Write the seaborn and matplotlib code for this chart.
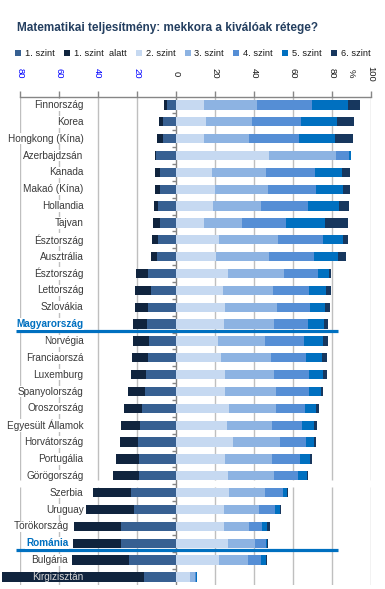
import numpy as np
import pandas as pd
import matplotlib
matplotlib.use("Agg")
import matplotlib.pyplot as plt
import seaborn as sns
from matplotlib.patches import Patch

# PISA maths proficiency levels, % of students
countries = [
    "Finnország", "Korea", "Hongkong (Kína)", "Azerbajdzsán", "Kanada",
    "Makaó (Kína)", "Hollandia", "Tajvan", "Észtország", "Ausztrália",
    "Észtország", "Lettország", "Szlovákia", "Magyarország", "Norvégia",
    "Franciaorszá", "Luxemburg", "Spanyolország", "Oroszország",
    "Egyesült Államok", "Horvátország", "Portugália", "Görögország",
    "Szerbia", "Uruguay", "Törökország", "Románia", "Bulgária", "Kirgizisztán",
]
below1 = [1.5, 2.1, 3.1, 0.5, 2.6, 2.6, 2.1, 3.6, 3.1, 3.1, 6.2, 8.2, 6.7, 7.2, 8.2,
          8.2, 7.7, 8.7, 9.2, 9.7, 9.2, 11.8, 13.3, 19.5, 24.6, 24.1, 24.6, 29.2, 72.9]
level1 = [4.6, 6.7, 6.7, 10.3, 8.2, 8.2, 9.2, 8.2, 9.2, 9.7, 14.4, 12.8, 14.4, 14.9, 13.8,
          14.4, 15.4, 15.9, 17.4, 18.5, 19.5, 19.0, 19.0, 23.1, 21.5, 28.2, 28.2, 24.1, 16.4]
level2 = [14.4, 15.4, 14.4, 47.7, 18.5, 20.0, 19.0, 14.4, 22.1, 20.5, 26.7, 24.1, 25.1, 24.6, 21.5,
          23.1, 25.1, 25.1, 27.2, 26.2, 29.2, 25.1, 26.7, 27.2, 24.6, 24.6, 26.7, 22.1, 7.2]
level3 = [27.2, 23.6, 23.1, 34.4, 27.7, 27.2, 24.6, 19.5, 30.3, 27.2, 28.7, 25.6, 26.7, 25.6, 24.1,
          25.6, 25.1, 26.2, 24.1, 23.1, 24.1, 24.1, 23.6, 18.5, 17.9, 12.8, 13.8, 14.9, 2.6]
level4 = [28.2, 25.1, 25.6, 6.7, 25.1, 24.6, 24.1, 22.6, 23.1, 23.1, 17.4, 18.5, 16.9, 17.4, 20.0,
          17.9, 17.9, 16.9, 14.9, 15.4, 13.3, 14.4, 12.3, 9.2, 8.2, 6.7, 5.6, 6.7, 0.6]
level5 = [18.5, 18.5, 18.5, 0.8, 13.8, 13.8, 15.9, 20.0, 10.3, 12.3, 5.6, 8.7, 7.7, 8.2, 9.7,
          8.2, 7.2, 6.2, 5.6, 6.2, 4.1, 5.1, 4.6, 2.1, 2.6, 2.6, 0.7, 2.6, 0.3]
level6 = [6.2, 8.7, 9.2, 0.2, 4.1, 3.6, 5.1, 11.8, 2.6, 4.1, 1.0, 2.6, 2.6, 2.1, 2.6,
          2.6, 2.1, 1.0, 1.5, 1.5, 1.0, 1.0, 0.5, 0.5, 0.5, 1.5, 0.2, 0.5, 0.1]
highlight = ["Magyarország", "Románia"]
legend_labels = ["1. szint", "1. szint  alatt", "2. szint", "3. szint",
                 "4. szint", "5. szint", "6. szint"]
x_ticks = [-80, -60, -40, -20, 0, 20, 40, 60, 80, 100]

COLORS = {
    "1. szint": "#376092",
    "1. szint  alatt": "#10243e",
    "2. szint": "#c6d9f1",
    "3. szint": "#8db3e2",
    "4. szint": "#558ed5",
    "5. szint": "#0070c0",
    "6. szint": "#17375e",
}
GRID = "#bfbfbf"
AXIS = "#868686"
HL = "#0070c0"

sns.set_theme(style="white")
plt.rcParams["font.family"] = ["Liberation Sans", "DejaVu Sans"]

n = len(countries)
df = pd.DataFrame({
    "row": np.arange(n),
    "b1": below1, "l1": level1, "l2": level2, "l3": level3,
    "l4": level4, "l5": level5, "l6": level6,
})
# cumulative ends for the stacked segments
df["c2"] = df["l2"]
df["c3"] = df["c2"] + df["l3"]
df["c4"] = df["c3"] + df["l4"]
df["c5"] = df["c4"] + df["l5"]
df["c6"] = df["c5"] + df["l6"]
df["n1"] = -df["l1"]
df["nb"] = -(df["l1"] + df["b1"])

fig = plt.figure(figsize=(3.85, 5.89), dpi=100)
ax = fig.add_axes([0.0512, 0.0061, 0.9124, 0.830])

# draw outermost first, inner segments on top
layers = [("c6", "6. szint"), ("c5", "5. szint"), ("c4", "4. szint"),
          ("c3", "3. szint"), ("c2", "2. szint"),
          ("nb", "1. szint  alatt"), ("n1", "1. szint")]
for col, lab in layers:
    sns.barplot(data=df, x=col, y="row", orient="h", color=COLORS[lab],
                saturation=1, width=0.55, errorbar=None, ax=ax, zorder=3)
for p in ax.patches:
    p.set_clip_on(False)
    p.set_linewidth(0)

ax.set_xlim(-80, 100)
ax.set_ylim(n - 0.5, -0.5)
ax.set_xlabel("")
ax.set_ylabel("")
ax.set_yticks([])

# gridlines with a small break between the two country groups
gap_lo, gap_hi = 22.25, 22.65
for t in x_ticks:
    if t == 0:
        continue
    ax.vlines(t, -0.5, gap_lo, color=GRID, lw=1, zorder=1)
    ax.vlines(t, gap_hi, n - 0.5, color=GRID, lw=1, zorder=1)
ax.axvline(0, color=AXIS, lw=1, zorder=2)
ax.hlines(np.arange(n - 1) + 0.5, -2, 0, color=AXIS, lw=1, zorder=2)

# top value axis
for s in ["left", "right", "bottom"]:
    ax.spines[s].set_visible(False)
ax.spines["top"].set_color(AXIS)
ax.spines["top"].set_linewidth(1)
ax.xaxis.tick_top()
ax.set_xticks(x_ticks)
ax.tick_params(axis="x", direction="out", length=4, width=1, color=AXIS,
               labeltop=False, labelbottom=False, top=True, bottom=False)
tr = ax.get_xaxis_transform()
for t in x_ticks:
    ax.text(t, 1.047, str(abs(t)), transform=tr, rotation=-90, ha="center",
            va="center", fontsize=6.8, color="#0000ff" if t < 0 else "#1a1a1a")
ax.text(89.7, 1.047, "%", transform=tr, rotation=-90, ha="center",
        va="center", fontsize=6.8, color="#1a1a1a")

# country labels
label_x = -47.3
for i, name in enumerate(countries):
    left_end = df.loc[i, "nb"]
    kw = dict(ha="right", va="center", fontsize=7.2, zorder=5)
    x = label_x
    color = "#3a3a3a"
    bbox = dict(facecolor="white", edgecolor="none", pad=0.6)
    if left_end < -70:
        color = "#d9d9d9"
        bbox = None
    elif left_end < label_x - 2:
        x = left_end - 2.3
    if name in highlight:
        ax.text(x, i, name, color=HL, fontweight="bold", bbox=bbox, **kw)
        ax.plot([-81.7, 82.9], [i + 0.4, i + 0.4], color=HL, lw=2.3,
                clip_on=False, zorder=4, solid_capstyle="butt")
    else:
        ax.text(x, i, name, color=color, bbox=bbox, **kw)

fig.text(0.044, 1 - 28 / 589, "Matematikai teljesítmény: mekkora a kiválóak rétege?",
         fontsize=8.5, fontweight="bold", color="#243f60", va="center", ha="left")

handles = [Patch(facecolor=COLORS[l], edgecolor="none") for l in legend_labels]
fig.legend(handles, legend_labels, loc="center left",
           bbox_to_anchor=(0.040, 1 - 54 / 589), ncol=7, frameon=False,
           fontsize=6.7, handlelength=0.65, handleheight=0.65,
           handletextpad=0.4, columnspacing=1.0, borderaxespad=0,
           borderpad=0, labelcolor="#1a1a1a")

fig.savefig("out.png", dpi=100)
